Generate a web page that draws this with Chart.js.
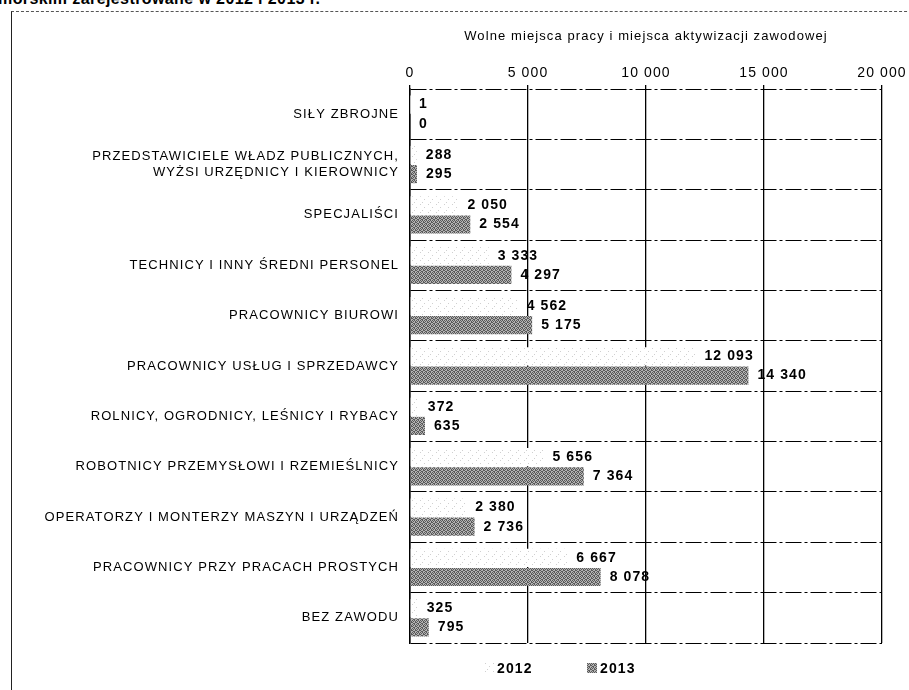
<!DOCTYPE html>
<html lang="pl">
<head>
<meta charset="UTF-8">
<title>Wolne miejsca pracy i miejsca aktywizacji zawodowej</title>
<style>
    body {
        margin: 0;
        width: 909px;
        height: 690px;
        overflow: hidden;
        background: #fff;
        font-family: Arial, "Liberation Sans", sans-serif;
        position: relative;
    }
    .naglowek {
        position: absolute;
        left: -2px;
        top: -10px;
        font-weight: bold;
        font-size: 16px;
        white-space: nowrap;
        letter-spacing: 0.4px;
    }
    .ramka {
        position: absolute;
        left: 11px;
        top: 11px;
        width: 920px;
        height: 700px;
        border-top: 1px dashed #555;
        border-left: 1px solid #222;
    }
    .wykres {
        position: absolute;
        left: 12px;
        top: 12px;
        width: 940px;
        height: 678px;
    }
    .legenda {
        position: absolute;
        top: 660px;
        left: 0;
        width: 909px;
        height: 18px;
        font-weight: bold;
        font-size: 14px;
        letter-spacing: 1.1px;
    }
    .legenda span { position: absolute; top: 0; }
    .legenda canvas { position: absolute; top: 3px; }
</style>
<script src="https://cdn.jsdelivr.net/npm/chart.js"></script>
</head>
<body>
<div class="naglowek">morskim zarejestrowane w 2012 i 2013 r.</div>
<div class="ramka"></div>
<div class="wykres"><canvas id="wykres"></canvas></div>
<div class="legenda" id="legenda"></div>
<script>
// Dane z wykresu
const kategorie = [
    'SIŁY ZBROJNE',
    ['PRZEDSTAWICIELE WŁADZ PUBLICZNYCH,', 'WYŻSI URZĘDNICY I KIEROWNICY'],
    'SPECJALIŚCI',
    'TECHNICY I INNY ŚREDNI PERSONEL',
    'PRACOWNICY BIUROWI',
    'PRACOWNICY USŁUG I SPRZEDAWCY',
    'ROLNICY, OGRODNICY, LEŚNICY I RYBACY',
    'ROBOTNICY PRZEMYSŁOWI I RZEMIEŚLNICY',
    'OPERATORZY I MONTERZY MASZYN I URZĄDZEŃ',
    'PRACOWNICY PRZY PRACACH PROSTYCH',
    'BEZ ZAWODU'
];
const wartosci2012 = [1, 288, 2050, 3333, 4562, 12093, 372, 5656, 2380, 6667, 325];
const wartosci2013 = [0, 295, 2554, 4297, 5175, 14340, 635, 7364, 2736, 8078, 795];
const serie = ['2012', '2013'];
const osX = { min: 0, max: 20000, krok: 5000 };
const tytulOsi = 'Wolne miejsca pracy i miejsca aktywizacji zawodowej';

// 1234 -> "1 234"
const fmt = v => String(v).replace(/\B(?=(\d{3})+(?!\d))/g, ' ');

// Wzory kreskowania (skan: kropki dla 2012, szary raster dla 2013)
function kafelek(tlo, punkt, punkty, n) {
    const c = document.createElement('canvas');
    c.width = n; c.height = n;
    const g = c.getContext('2d');
    g.fillStyle = tlo; g.fillRect(0, 0, n, n);
    g.fillStyle = punkt;
    punkty.forEach(([x, y]) => g.fillRect(x, y, 1, 1));
    return c;
}
const kafel2012 = kafelek('#ffffff', '#d0d0d0', [[0, 0], [4, 3], [2, 6]], 8);
const kafel2013 = kafelek('#b4b4b4', '#5a5a5a', [[0, 0], [2, 0], [1, 1], [3, 1], [0, 2], [3, 2], [1, 3], [2, 3]], 4);

const ctx = document.getElementById('wykres').getContext('2d');
const wzor2012 = ctx.createPattern(kafel2012, 'repeat');
const wzor2013 = ctx.createPattern(kafel2013, 'repeat');

// Rozstrzelone litery jak na skanie
const rozstrzelenie = {
    id: 'rozstrzelenie',
    beforeDraw(chart) { chart.ctx.letterSpacing = '1.1px'; }
};

// Wartości przy końcach słupków
const etykiety = {
    id: 'etykiety',
    afterDatasetsDraw(chart) {
        const c = chart.ctx;
        c.save();
        c.font = 'bold 14px Arial, "Liberation Sans", sans-serif';
        c.fillStyle = '#000';
        c.textAlign = 'left';
        c.textBaseline = 'middle';
        chart.data.datasets.forEach((ds, i) => {
            chart.getDatasetMeta(i).data.forEach((bar, j) => {
                c.fillText(fmt(ds.data[j]), bar.x + 9, bar.y);
            });
        });
        c.restore();
    }
};

new Chart(ctx, {
    type: 'bar',
    data: {
        labels: kategorie,
        datasets: [
            { label: serie[0], data: wartosci2012, backgroundColor: wzor2012 },
            { label: serie[1], data: wartosci2013, backgroundColor: wzor2013 }
        ]
    },
    options: {
        indexAxis: 'y',
        responsive: true,
        maintainAspectRatio: false,
        animation: false,
        layout: { padding: { top: 0, right: 70, bottom: 47, left: 0 } },
        datasets: { bar: { categoryPercentage: 0.76, barPercentage: 0.95 } },
        plugins: {
            legend: { display: false },
            tooltip: { enabled: false }
        },
        scales: {
            x: {
                position: 'top',
                min: osX.min,
                max: osX.max,
                ticks: {
                    stepSize: osX.krok,
                    color: '#000',
                    padding: 3,
                    font: { size: 14 },
                    callback: v => fmt(v)
                },
                grid: { color: '#000', lineWidth: 1.3, tickLength: 4 },
                border: { display: false },
                title: {
                    display: true,
                    text: tytulOsi,
                    color: '#000',
                    font: { size: 13 },
                    padding: { top: 17, bottom: 0 }
                },
                afterFit: s => { s.height = 77; }
            },
            y: {
                ticks: {
                    color: '#000',
                    padding: 11,
                    font: { size: 13 }
                },
                grid: { color: '#000', lineWidth: 1, drawTicks: false },
                border: { display: true, color: '#000', width: 1.5, dash: [16, 3, 3, 3] },
                afterFit: s => { s.width = 398; }
            }
        }
    },
    plugins: [rozstrzelenie, etykiety]
});

// Legenda pod wykresem
const legenda = document.getElementById('legenda');
[[serie[0], kafel2012, 485, 497], [serie[1], kafel2013, 587, 600]].forEach(([nazwa, kafel, xKw, xTxt]) => {
    const kw = document.createElement('canvas');
    kw.width = 10; kw.height = 10;
    kw.style.left = xKw + 'px';
    const g = kw.getContext('2d');
    g.fillStyle = g.createPattern(kafel, 'repeat');
    g.fillRect(0, 0, 10, 10);
    legenda.appendChild(kw);
    const t = document.createElement('span');
    t.textContent = nazwa;
    t.style.left = xTxt + 'px';
    legenda.appendChild(t);
});
</script>
</body>
</html>
